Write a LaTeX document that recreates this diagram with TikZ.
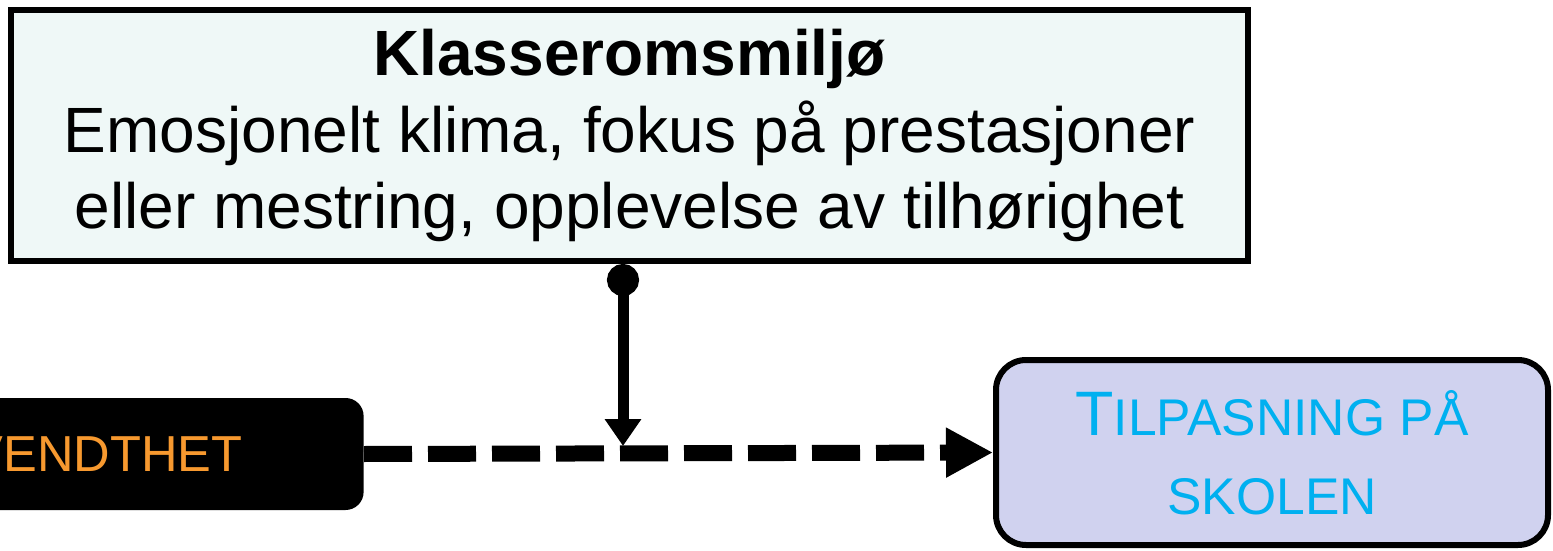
\documentclass[tikz,border=0pt]{standalone}
\usepackage{fontspec}
\setmainfont{Liberation Sans}
\usetikzlibrary{arrows.meta}
\definecolor{klimafill}{HTML}{EFF8F7}
\definecolor{utfallfill}{HTML}{D0D2EF}
\definecolor{utfalltext}{HTML}{00B0F0}
\definecolor{persorange}{HTML}{F7992F}

\begin{document}
\begin{tikzpicture}[
      x=0.5pt, y=-0.5pt,
      klimabox/.style = {draw, line width=3pt, fill=klimafill, minimum width=618.5pt,
                         minimum height=125.5pt, align=center, inner sep=0pt,
                         font=\fontsize{32}{38.3}\selectfont},
      utfallbox/.style= {draw, line width=3pt, fill=utfallfill, rounded corners=15pt,
                         minimum width=276pt, minimum height=92.5pt, align=center,
                         inner sep=0pt, text=utfalltext, font=\fontsize{25.8}{39.5}\selectfont},
      persbox/.style  = {fill=black, rounded corners=9pt, minimum height=56pt,
                         text=persorange, text width=200pt, align=right,
                         inner xsep=60.5pt, inner ysep=0pt,
                         font=\fontsize{25.3}{30}\selectfont}
    ]
    \useasboundingbox (0,0) rectangle (1553,551);

    % ---- boxes ----
    \node[klimabox] (klima) at (629.5,135.5)
        {\textbf{Klasseromsmiljø}\\
         Emosjonelt klima, fokus på prestasjoner\\
         eller mestring, opplevelse av tilhørighet};
    \node[persbox, anchor=east] (person) at (364,454) {VENDTHET};
    \node[utfallbox] (utfall) at (1272,452.5)
        {{\fontsize{31.4}{39.5}\selectfont T}ILPASNING PÅ\\ SKOLEN};

    % ---- arrows ----
    \coordinate (kryss) at (623,454);
    \draw[-{Triangle[length=23.5pt, width=23.5pt]}, line width=8pt,
          dash pattern=on 24pt off 8pt] (person.east) -- (utfall.west);
    \draw[{Circle[length=16pt]}-{Triangle[length=13.5pt, width=17.5pt]},
          line width=5.5pt] (klima.south -| kryss) -- ([yshift=4pt]kryss);

\end{tikzpicture}
\end{document}
